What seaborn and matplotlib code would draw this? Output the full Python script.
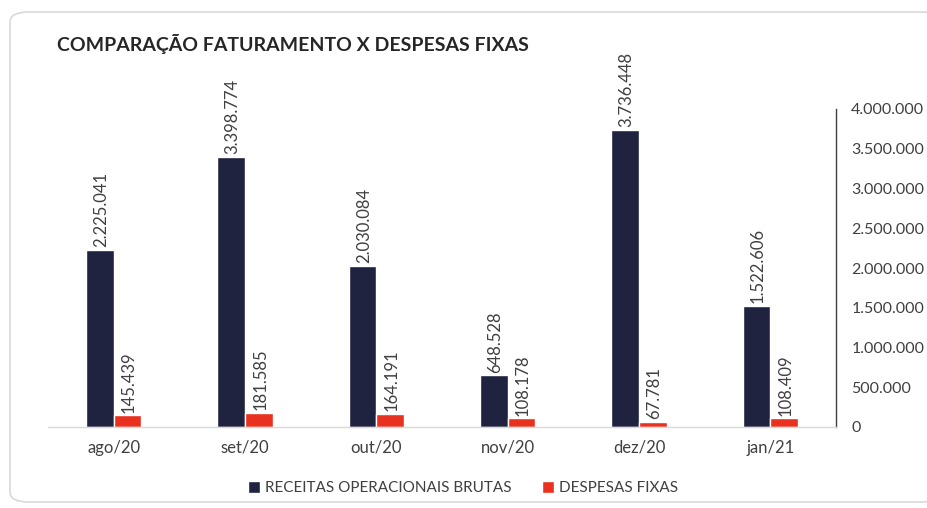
import pandas as pd
import matplotlib.pyplot as plt
import matplotlib.ticker as mticker
from matplotlib.patches import FancyBboxPatch, Patch
import seaborn as sns

# Dados
meses = ['ago/20', 'set/20', 'out/20', 'nov/20', 'dez/20', 'jan/21']
receitas = [2225041, 3398774, 2030084, 648528, 3736448, 1522606]
despesas = [145439, 181585, 164191, 108178, 67781, 108409]
series = ['RECEITAS OPERACIONAIS BRUTAS', 'DESPESAS FIXAS']
yticks = [0, 500000, 1000000, 1500000, 2000000, 2500000, 3000000, 3500000, 4000000]

cor_receita = '#1F2340'
cor_despesa = '#E8311E'
cor_texto = '#404040'

df = pd.DataFrame({
    'mes': meses * 2,
    'valor': receitas + despesas,
    'serie': [series[0]] * len(meses) + [series[1]] * len(meses),
})

sns.set_theme(style='white')
plt.rcParams['font.family'] = ['Lato', 'DejaVu Sans']


def fmt_br(v):
    return f'{v:,.0f}'.replace(',', '.')


fig = plt.figure(figsize=(9.28, 5.08), dpi=100)

# Moldura arredondada (atrás de tudo)
moldura = FancyBboxPatch((10 / 928, 6 / 508), 930 / 928, 490 / 508,
                         boxstyle='round,pad=0,rounding_size=0.02',
                         transform=fig.transFigure, facecolor='white',
                         edgecolor='#D9D9D9', linewidth=1.2, zorder=-10)
fig.patches.append(moldura)

ax = fig.add_axes([48 / 928, 1 - 427 / 508, (836 - 48) / 928, (427 - 109) / 508])
ax.set_facecolor('none')
ax.set_zorder(1)

sns.barplot(data=df, x='mes', y='valor', hue='serie', order=meses,
            hue_order=series, palette=[cor_receita, cor_despesa],
            width=0.42, gap=0, saturation=1, legend=False, ax=ax)

# Rótulos de valor
for cont in ax.containers:
    for bar in cont:
        h = bar.get_height()
        ax.annotate(fmt_br(h), xy=(bar.get_x() + bar.get_width() / 2, h),
                    xytext=(1, 2), textcoords='offset points',
                    rotation=90, ha='center', va='bottom',
                    fontsize=12, color=cor_texto, annotation_clip=False)

ax.set_xlim(-0.5, len(meses) - 0.5)
ax.set_ylim(0, 4000000)
ax.set_yticks(yticks)
ax.yaxis.tick_right()
ax.yaxis.set_major_formatter(mticker.FuncFormatter(lambda x, _: fmt_br(x)))
ax.tick_params(axis='y', length=0, pad=11, labelsize=11.5, labelcolor=cor_texto)
for lbl in ax.get_yticklabels():
    lbl.set_horizontalalignment('left')

ax.set_xticks(range(len(meses)))
ax.set_xticklabels(meses)
ax.set_xticks([i + 0.5 for i in range(-1, len(meses))], minor=True)
ax.tick_params(axis='x', which='major', length=0, pad=9, labelsize=12, labelcolor=cor_texto)
ax.tick_params(axis='x', which='minor', length=5, width=0.8, color='#D9D9D9', direction='out')
ax.set_xlabel('')
ax.set_ylabel('')

for lado in ['top', 'left']:
    ax.spines[lado].set_visible(False)
ax.spines['bottom'].set_color('#D9D9D9')
ax.spines['bottom'].set_linewidth(1)
ax.spines['right'].set_color(cor_texto)
ax.spines['right'].set_linewidth(1)

fig.text(57 / 928, 1 - 44 / 508, 'COMPARAÇÃO FATURAMENTO X DESPESAS FIXAS',
         fontsize=14, fontweight='bold', color='#262626', va='center', ha='left')

handles = [Patch(facecolor=cor_receita), Patch(facecolor=cor_despesa)]
fig.legend(handles, series, loc='center', bbox_to_anchor=(463 / 928, 1 - 488 / 508),
           ncol=2, frameon=False, fontsize=11, handlelength=0.8, handleheight=0.8,
           handletextpad=0.3, columnspacing=2.0, labelcolor=cor_texto)

plt.savefig('out.png', dpi=100)
